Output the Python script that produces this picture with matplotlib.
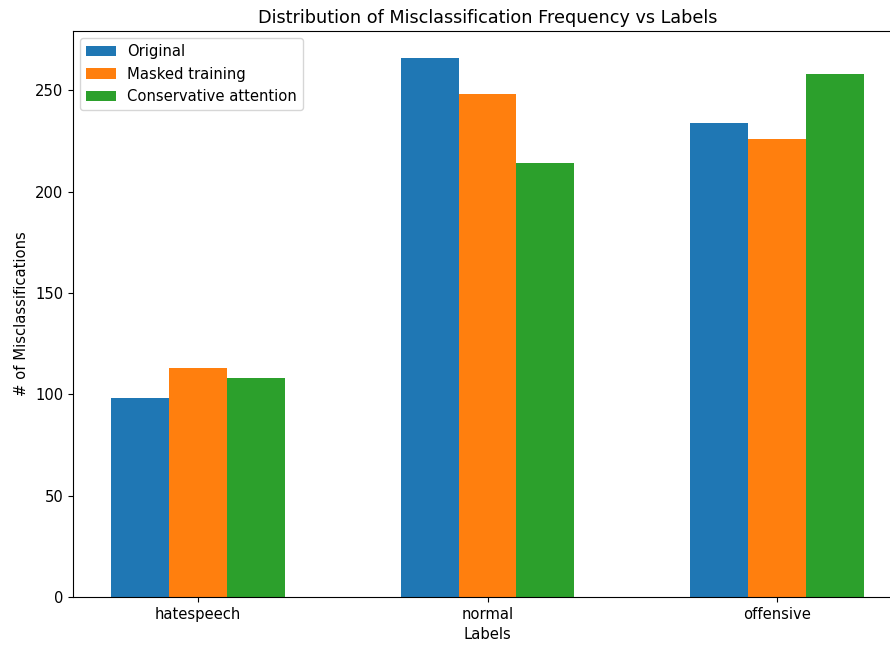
import numpy as np
import matplotlib.pyplot as plt

# Данные
labels = ['hatespeech', 'normal', 'offensive']
original = [98, 266, 234]
masked = [113, 248, 226]
conservative = [108, 214, 258]

plt.rcParams['font.size'] = 10.6

x = np.arange(len(labels))
width = 0.2

fig = plt.figure(figsize=(8.9, 6.46), dpi=100)
ax = fig.add_axes([73 / 890, 1 - 597 / 646, (902 - 73) / 890, (597 - 31) / 646])

ax.bar(x - width, original, width, label='Original')
ax.bar(x, masked, width, label='Masked training')
ax.bar(x + width, conservative, width, label='Conservative attention')

ax.set_xticks(x)
ax.set_xticklabels(labels)
ax.set_xlabel('Labels')
ax.set_ylabel('# of Misclassifications')
ax.set_title('Distribution of Misclassification Frequency vs Labels')
ax.legend(loc='upper left')

plt.savefig('out.png', dpi=100)
